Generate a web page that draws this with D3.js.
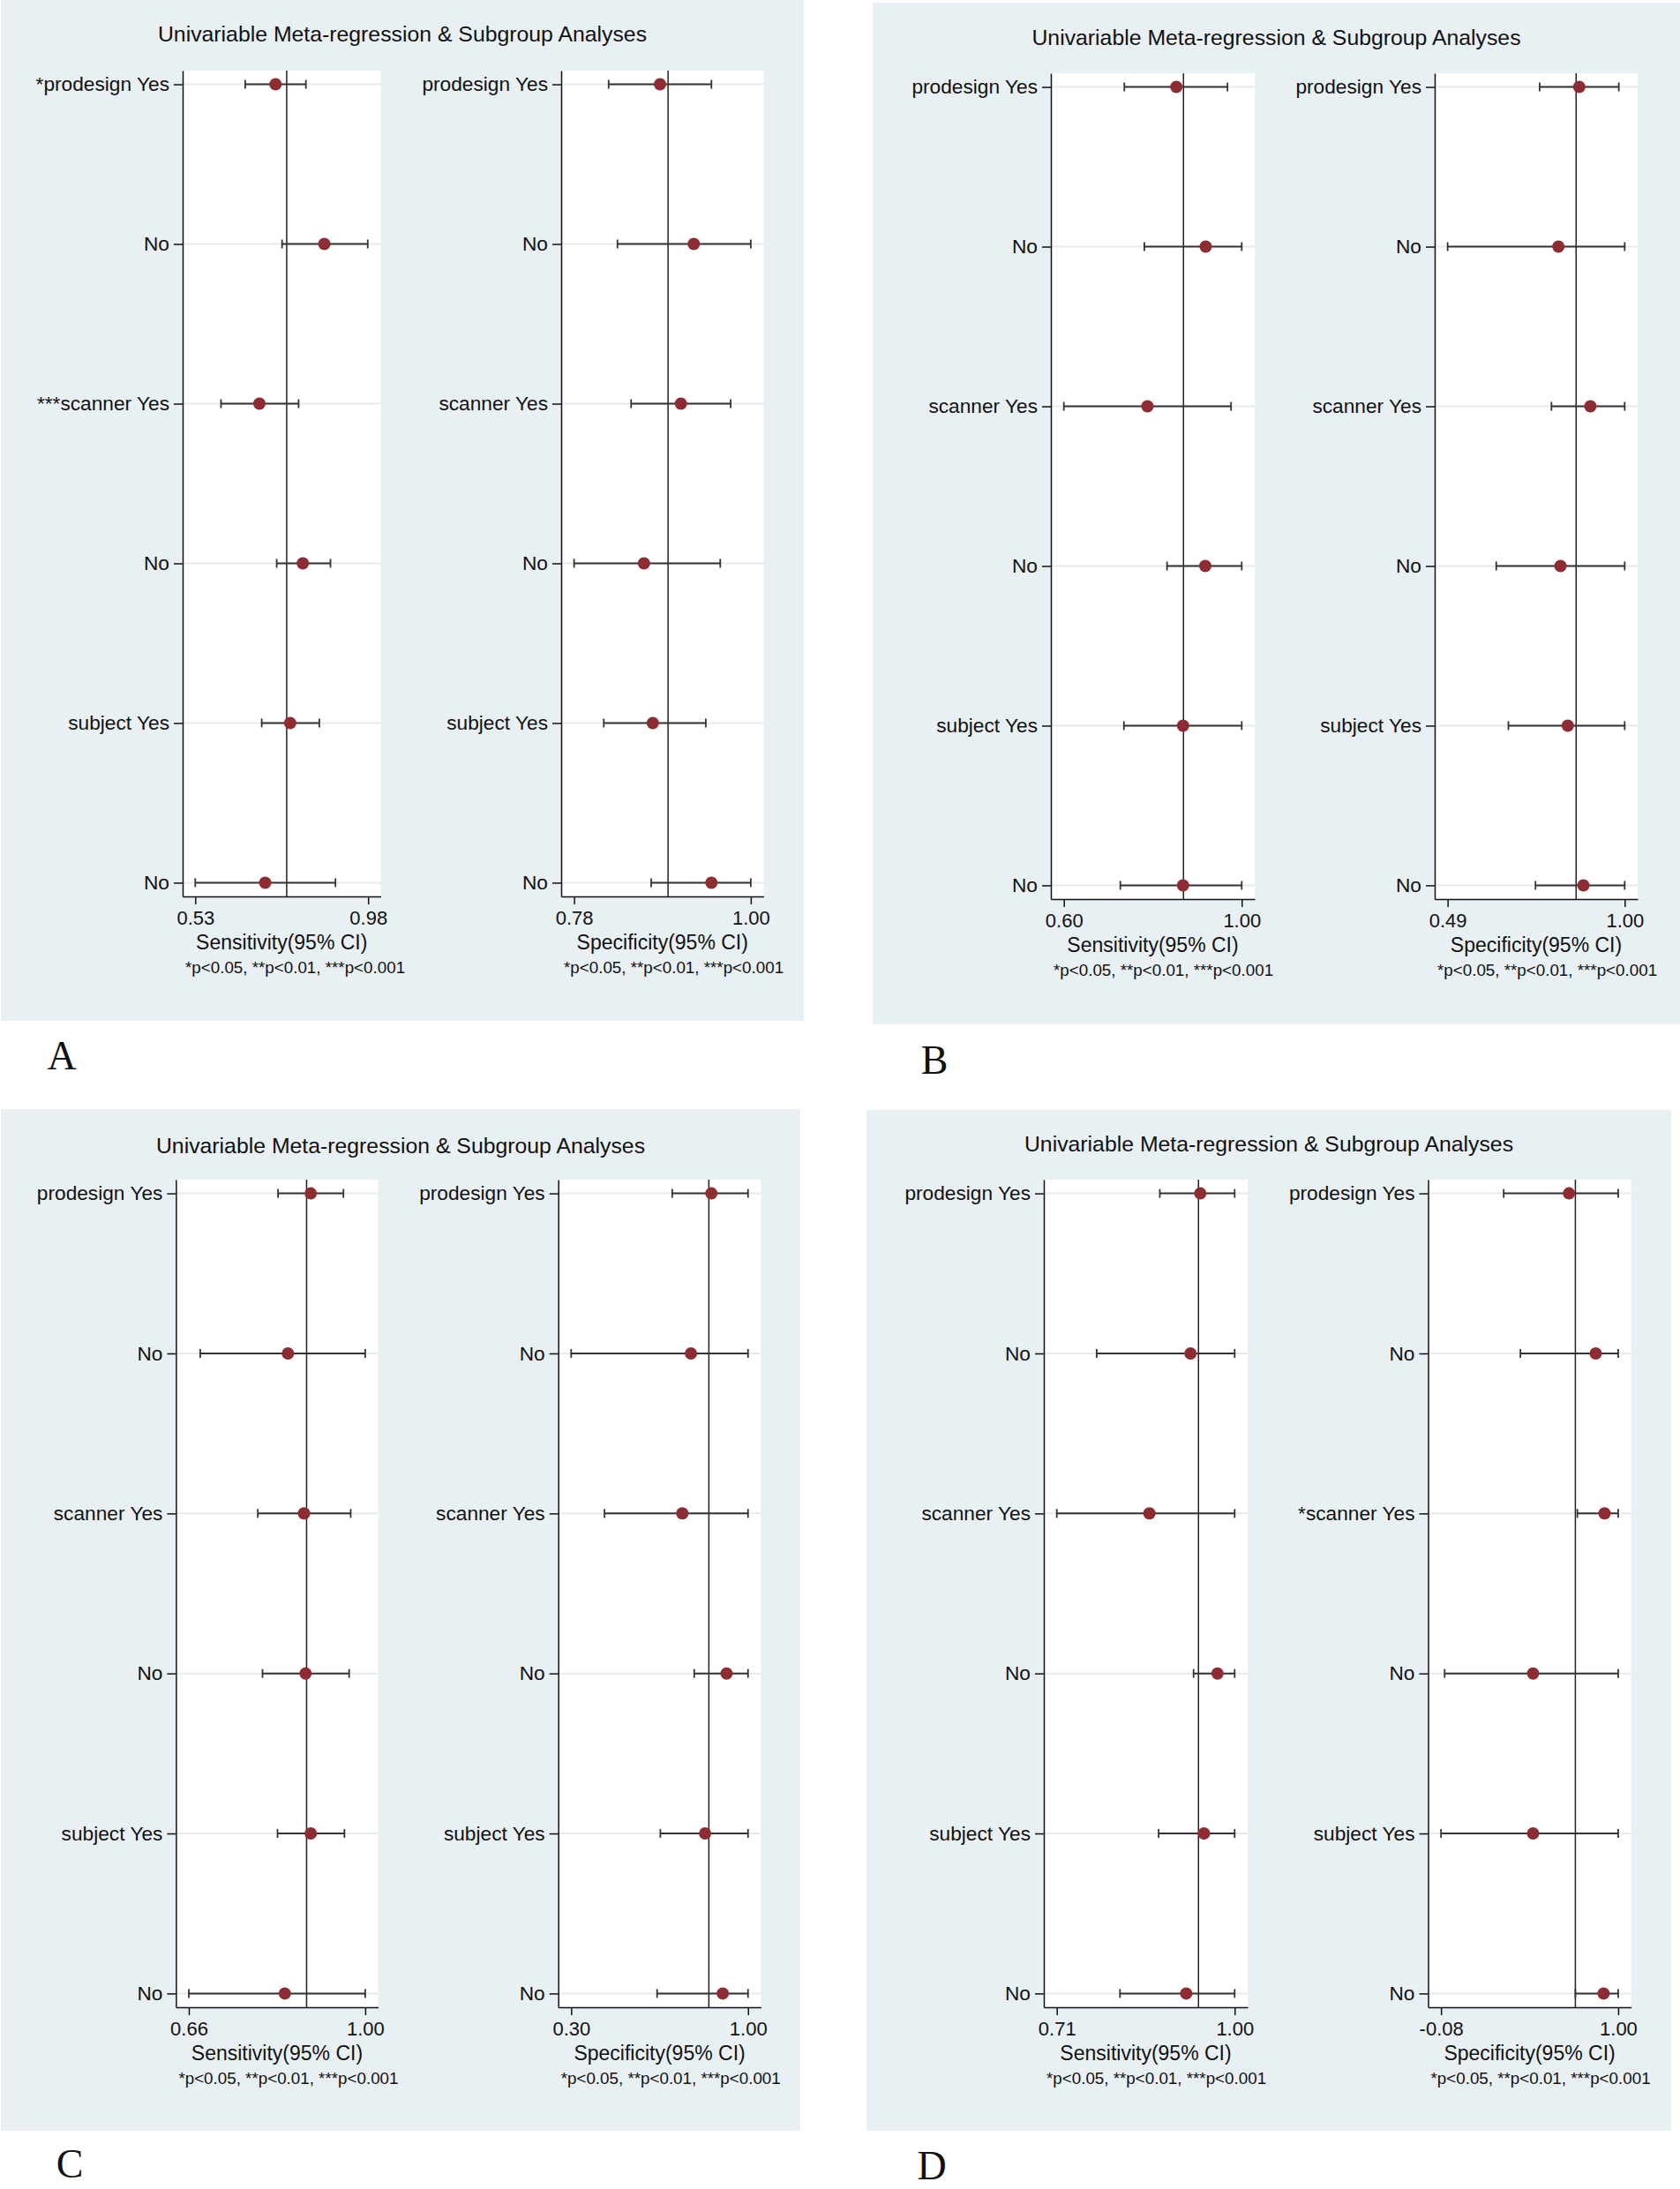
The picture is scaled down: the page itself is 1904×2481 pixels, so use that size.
<!DOCTYPE html>
<html>
<head>
<meta charset="utf-8">
<script src="https://cdn.jsdelivr.net/npm/d3@7"></script>
<style>
  body { margin: 0; background: #fff; }
  svg text { font-family: "Liberation Sans", Arial, Helvetica, sans-serif; fill: #111; }
</style>
</head>
<body>
<svg id="chart"></svg>
<script>
/** Data: [estimate, lower CI, upper CI] per row **/
var rowLabels      = ["prodesign Yes", "No", "scanner Yes", "No", "subject Yes", "No"];
var rowLabelsA_sen = ["*prodesign Yes", "No", "***scanner Yes", "No", "subject Yes", "No"];
var rowLabelsD_spe = ["prodesign Yes", "No", "*scanner Yes", "No", "subject Yes", "No"];

var A_sen = [[0.739, 0.660, 0.818], [0.866, 0.756, 0.979], [0.697, 0.597, 0.799],
             [0.810, 0.742, 0.882], [0.777, 0.703, 0.853], [0.712, 0.530, 0.895]];
var A_spe = [[0.887, 0.823, 0.951], [0.929, 0.834, 1.000], [0.913, 0.851, 0.975],
             [0.867, 0.780, 0.962], [0.878, 0.817, 0.944], [0.951, 0.876, 1.000]];
var B_sen = [[0.853, 0.736, 0.968], [0.919, 0.781, 1.000], [0.788, 0.600, 0.976],
             [0.918, 0.832, 1.000], [0.868, 0.735, 1.000], [0.868, 0.727, 1.000]];
var B_spe = [[0.869, 0.755, 0.983], [0.809, 0.490, 1.000], [0.901, 0.789, 1.000],
             [0.815, 0.630, 1.000], [0.836, 0.665, 1.000], [0.881, 0.743, 1.000]];
var C_sen = [[0.895, 0.832, 0.958], [0.851, 0.682, 1.000], [0.882, 0.793, 0.972],
             [0.885, 0.802, 0.969], [0.895, 0.831, 0.960], [0.845, 0.660, 1.000]];
var C_spe = [[0.855, 0.700, 1.000], [0.774, 0.300, 1.000], [0.740, 0.432, 1.000],
             [0.915, 0.787, 1.000], [0.830, 0.653, 1.000], [0.900, 0.640, 1.000]];
var D_sen = [[0.944, 0.878, 1.000], [0.928, 0.775, 1.000], [0.861, 0.710, 1.000],
             [0.972, 0.933, 1.000], [0.950, 0.876, 1.000], [0.921, 0.813, 1.000]];
var D_spe = [[0.700, 0.302, 1.000], [0.863, 0.404, 1.000], [0.917, 0.751, 1.000],
             [0.481, -0.058, 1.000], [0.481, -0.080, 1.000], [0.911, 0.739, 1.000]];

// pooled reference lines
var refs  = { A: [0.768, 0.897], B: [0.869, 0.860], C: [0.887, 0.845], D: [0.941, 0.739] };
// x tick labels (min / max)
var ticks = { A: [[0.53, 0.98], [0.78, 1.00]], B: [[0.60, 1.00], [0.49, 1.00]],
              C: [[0.66, 1.00], [0.30, 1.00]], D: [[0.71, 1.00], [-0.08, 1.00]] };

var title     = "Univariable Meta-regression & Subgroup Analyses";
var xTitles   = ["Sensitivity(95% CI)", "Specificity(95% CI)"];
var footnote  = "*p<0.05, **p<0.01, ***p<0.001";


/** Layout of the four panels (pixels) **/
var panels = [
    { id: "A", bg: [1, 0, 911, 1157],     titleY: 47,   top: 80,   bottom: 1016,
      plots: [[207, 431.5], [636, 865.5]],   letter: [70, 1212],
      data: [A_sen, A_spe], labels: [rowLabelsA_sen, rowLabels] },
    { id: "B", bg: [989, 3, 1904, 1161],  titleY: 51,   top: 83,   bottom: 1019,
      plots: [[1191, 1422], [1626, 1856]],   letter: [1059, 1217],
      data: [B_sen, B_spe], labels: [rowLabels, rowLabels] },
    { id: "C", bg: [1, 1257, 907, 2415],  titleY: 1307, top: 1337, bottom: 2275,
      plots: [[199.4, 428.5], [632.7, 862.4]], letter: [79, 2468],
      data: [C_sen, C_spe], labels: [rowLabels, rowLabels] },
    { id: "D", bg: [982, 1258, 1894, 2415], titleY: 1305, top: 1337, bottom: 2275,
      plots: [[1183, 1414], [1618.5, 1848.6]], letter: [1056, 2470],
      data: [D_sen, D_spe], labels: [rowLabels, rowLabelsD_spe] }
];

var color_bg     = "#e9f0f3";
var color_grid   = "#e6ebed";
var color_marker = "#8e2c33";
var color_ci     = "#333";
var pad_frac     = 0.073;     // Stata pads the x range beyond the min/max ticks


var svg = d3.select("#chart")
    .attr("width", 1904)
    .attr("height", 2481);

svg.append("rect")
    .attr("width", 1904).attr("height", 2481)
    .attr("fill", "#fff");


panels.forEach(function (p) {
    var g = svg.append("g").attr("id", "panel" + p.id);

    g.append("rect")
        .attr("x", p.bg[0]).attr("y", p.bg[1])
        .attr("width", p.bg[2] - p.bg[0])
        .attr("height", p.bg[3] - p.bg[1])
        .attr("fill", color_bg);

    g.append("text")
        .attr("x", (p.bg[0] + p.bg[2]) / 2)
        .attr("y", p.titleY)
        .attr("text-anchor", "middle")
        .style("font-size", "24.8px")
        .text(title);

    // Panel letter below the grey box
    svg.append("text")
        .attr("x", p.letter[0])
        .attr("y", p.letter[1])
        .attr("text-anchor", "middle")
        .style("font-family", "'Liberation Serif', 'Times New Roman', serif")
        .style("font-size", "46px")
        .text(p.id);

    p.plots.forEach(function (range, k) {
        drawForest(g, p, range, p.data[k], p.labels[k], refs[p.id][k], ticks[p.id][k], xTitles[k]);
    });
});


/**
 * Draws one forest plot (estimate + CI per row) inside a panel.
 */
function drawForest(g, p, range, rows, labels, ref, tickVals, xTitle)
{
    var x0 = range[0], x1 = range[1];
    var span = tickVals[1] - tickVals[0];

    var xScale = d3.scaleLinear()
        .domain([tickVals[0] - pad_frac * span, tickVals[1] + pad_frac * span])
        .range([x0, x1]);

    var yScale = d3.scalePoint()
        .domain(d3.range(rows.length))
        .range([p.top, p.bottom])
        .padding(0.086);

    var pg = g.append("g");

    pg.append("rect")
        .attr("x", x0).attr("y", p.top)
        .attr("width", x1 - x0)
        .attr("height", p.bottom - p.top)
        .attr("fill", "#fff");

    // faint row gridlines
    pg.selectAll("line.grid")
        .data(rows)
        .enter().append("line")
        .attr("class", "grid")
        .attr("x1", x0).attr("x2", x1)
        .attr("y1", function (d, i) { return yScale(i); })
        .attr("y2", function (d, i) { return yScale(i); })
        .attr("stroke", color_grid)
        .attr("stroke-width", 2);

    // pooled estimate line
    pg.append("line")
        .attr("x1", xScale(ref)).attr("x2", xScale(ref))
        .attr("y1", p.top).attr("y2", p.bottom)
        .attr("stroke", "#222")
        .attr("stroke-width", 1.5);

    var yAxis = d3.axisLeft(yScale)
        .tickFormat(function (i) { return labels[i]; })
        .tickSize(10)
        .tickSizeOuter(0)
        .tickPadding(5);

    var xAxis = d3.axisBottom(xScale)
        .tickValues(tickVals)
        .tickFormat(function (d) { return d.toFixed(2); })
        .tickSize(9)
        .tickSizeOuter(0)
        .tickPadding(7);

    var ya = pg.append("g")
        .attr("transform", "translate(" + x0 + ",0)")
        .call(yAxis);
    ya.selectAll("text").style("font-size", "22.7px").attr("fill", "#111");

    var xa = pg.append("g")
        .attr("transform", "translate(0," + p.bottom + ")")
        .call(xAxis);
    xa.selectAll("text").style("font-size", "22px").attr("fill", "#111");

    pg.selectAll(".domain, .tick line")
        .attr("stroke", "#111")
        .attr("stroke-width", 1.5);

    // confidence intervals
    var ci = pg.selectAll("g.ci")
        .data(rows)
        .enter().append("g")
        .attr("class", "ci")
        .attr("transform", function (d, i) { return "translate(0," + yScale(i) + ")"; });

    ci.append("line")
        .attr("x1", function (d) { return xScale(d[1]); })
        .attr("x2", function (d) { return xScale(d[2]); })
        .attr("stroke", color_ci)
        .attr("stroke-width", 2);

    [1, 2].forEach(function (j) {
        ci.append("line")
            .attr("x1", function (d) { return xScale(d[j]); })
            .attr("x2", function (d) { return xScale(d[j]); })
            .attr("y1", -5).attr("y2", 5)
            .attr("stroke", color_ci)
            .attr("stroke-width", 1.8);
    });

    ci.append("circle")
        .attr("cx", function (d) { return xScale(d[0]); })
        .attr("r", 7)
        .attr("fill", color_marker);

    pg.append("text")
        .attr("x", (x0 + x1) / 2)
        .attr("y", p.bottom + 60)
        .attr("text-anchor", "middle")
        .style("font-size", "23px")
        .text(xTitle);

    pg.append("text")
        .attr("x", x0 + 3)
        .attr("y", p.bottom + 87)
        .style("font-size", "18.8px")
        .text(footnote);
}
</script>
</body>
</html>
